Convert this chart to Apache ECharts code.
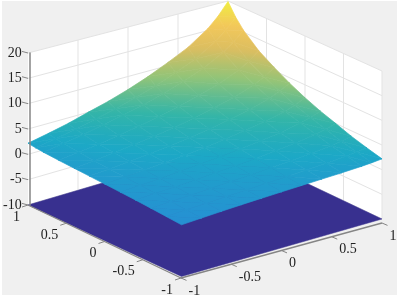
<!DOCTYPE html>
<html><head><meta charset="utf-8">
<style>html,body{margin:0;padding:0;background:#fff}#c{width:397px;height:298px}</style>
<script src="https://cdn.jsdelivr.net/npm/echarts@6/dist/echarts.min.js"></script>
</head><body><div id="c"></div>
<script>
// ---- data ----
const axisTicksA = [1, 0.5, 0, -0.5, -1];
const axisTicksB = [-1, -0.5, 0, 0.5, 1];
const axisLabelsA = ['1', '0.5', '0', '-0.5', '-1'];
const axisLabelsB = ['-1', '-0.5', '0', '0.5', '1'];
const zTicks = [-10, -5, 0, 5, 10, 15, 20];
const gridB = [-0.5, 0, 0.5];
const gridA = [0.5, 0, -0.5];
const floorZ = -10;
const surfaceA = [-1, -0.8, -0.6, -0.4, -0.2, 0, 0.2, 0.4, 0.6, 0.8, 0.9, 1];
const surfaceB = [-1, -0.8, -0.6, -0.4, -0.2, 0, 0.2, 0.4, 0.6, 0.8, 0.9, 1];
const surfaceZ = [
  [0.24, 0.47, 0.69, 0.89, 1.05, 1.21, 1.36, 1.51, 1.65, 1.84, 1.99, 2.19],
  [0.47, 0.68, 0.88, 1.09, 1.27, 1.47, 1.67, 1.88, 2.11, 2.44, 2.67, 2.99],
  [0.69, 0.88, 1.09, 1.31, 1.52, 1.76, 2.02, 2.32, 2.63, 3.10, 3.44, 3.88],
  [0.89, 1.09, 1.31, 1.58, 1.83, 2.13, 2.47, 2.88, 3.31, 3.96, 4.41, 5.00],
  [1.05, 1.27, 1.52, 1.83, 2.13, 2.48, 2.91, 3.41, 3.96, 4.77, 5.33, 6.07],
  [1.21, 1.47, 1.76, 2.13, 2.48, 2.92, 3.44, 4.06, 4.75, 5.75, 6.46, 7.36],
  [1.36, 1.67, 2.02, 2.47, 2.91, 3.44, 4.08, 4.85, 5.69, 6.92, 7.77, 8.88],
  [1.51, 1.88, 2.32, 2.88, 3.41, 4.06, 4.85, 5.77, 6.80, 8.29, 9.33, 10.66],
  [1.65, 2.11, 2.63, 3.31, 3.96, 4.75, 5.69, 6.80, 8.03, 9.80, 11.04, 12.62],
  [1.84, 2.44, 3.10, 3.96, 4.77, 5.75, 6.92, 8.29, 9.80, 11.97, 13.49, 15.43],
  [1.99, 2.67, 3.44, 4.41, 5.33, 6.46, 7.77, 9.33, 11.04, 13.49, 15.21, 17.39],
  [2.19, 2.99, 3.88, 5.00, 6.07, 7.36, 8.88, 10.66, 12.62, 15.43, 17.39, 19.9]
];
const colorZ = [-10, -1, 0.5, 2.5, 5, 8.75, 12.5, 16, 20];
const colorHex = ['#38308f', '#2a86d4', '#2592d2', '#1ca8c6', '#33b5a8', '#92c478', '#dcbe60', '#f3c85a', '#f0ee40'];

// ---- view of the box ----
const CORNER_FLOOR = { L: [28, 205], F: [181.5, 276.5], R: [382, 219], K: [228, 146] };
const CORNER_TOP = { L: [28, 53], F: [181.5, 125], R: [382, 71], K: [228, 1] };
const AXIS_END = { L: [28, 205], F: [181, 278], R: [382, 223] };
const Z_MIN = -10, Z_MAX = 20;
const FONT = '"Liberation Serif"';
const GRID_COLOR = '#e3e3e3', AXIS_COLOR = '#858585', TEXT_COLOR = '#222';

function bil(c, A, B, k) {
  const s = (A + 1) / 2, t = (B + 1) / 2;
  return (1 - s) * (1 - t) * c.F[k] + s * (1 - t) * c.L[k] + (1 - s) * t * c.R[k] + s * t * c.K[k];
}
function project(A, B, z) {
  const h = (z - Z_MIN) / (Z_MAX - Z_MIN);
  return [0, 1].map(k => bil(CORNER_FLOOR, A, B, k) * (1 - h) + bil(CORNER_TOP, A, B, k) * h);
}
function lerp2(p, q, t) { return [p[0] + (q[0] - p[0]) * t, p[1] + (q[1] - p[1]) * t]; }
function rgb(hex) { return [1, 3, 5].map(i => parseInt(hex.substr(i, 2), 16)); }
function colorAt(z) {
  let i = 0;
  while (i < colorZ.length - 2 && z > colorZ[i + 1]) i++;
  const t = Math.max(0, Math.min(1, (z - colorZ[i]) / (colorZ[i + 1] - colorZ[i])));
  const a = rgb(colorHex[i]), b = rgb(colorHex[i + 1]);
  return 'rgb(' + a.map((v, k) => Math.round(v + (b[k] - v) * t)).join(',') + ')';
}
function triFill(v) {
  // v: three [x, y, z]; colour runs linearly along the z direction on screen
  const s = v.slice().sort((p, q) => p[2] - q[2]);
  const lo = s[0], hi = s[2];
  const ax = s[1][0] - lo[0], ay = s[1][1] - lo[1], bx = hi[0] - lo[0], by = hi[1] - lo[1];
  const d1 = s[1][2] - lo[2], d2 = hi[2] - lo[2];
  const det = ax * by - ay * bx;
  if (Math.abs(det) < 1e-6 || d2 < 1e-6) return colorAt(lo[2]);
  const gx = (d1 * by - d2 * ay) / det, gy = (-d1 * bx + d2 * ax) / det;
  const n2 = gx * gx + gy * gy, f = d2 / n2;
  const stops = [0, 0.25, 0.5, 0.75, 1].map(o => ({ offset: o, color: colorAt(lo[2] + d2 * o) }));
  return new echarts.graphic.LinearGradient(lo[0], lo[1], lo[0] + gx * f, lo[1] + gy * f, stops, true);
}
function poly(points, fill, stroke, lw) {
  return { type: 'polygon', shape: { points }, style: { fill, stroke: stroke || null, lineWidth: lw || 0 } };
}
function line(p, q, color, lw) {
  return { type: 'line', shape: { x1: p[0], y1: p[1], x2: q[0], y2: q[1] }, style: { stroke: color, lineWidth: lw, fill: null } };
}
function layer(name, z, build) {
  return {
    type: 'custom', name, coordinateSystem: 'none', silent: true, animation: false, z,
    data: [0],
    renderItem: () => ({ type: 'group', children: build() })
  };
}

function buildWalls() {
  const c = [];
  const T = Z_MAX, Bt = Z_MIN;
  c.push(poly([project(1, -1, Bt), project(1, 1, Bt), project(1, 1, T), project(1, -1, T)], '#fff'));
  c.push(poly([project(1, 1, Bt), project(-1, 1, Bt), project(-1, 1, T), project(1, 1, T)], '#fff'));
  zTicks.forEach(z => {
    c.push(line(project(1, -1, z), project(1, 1, z), GRID_COLOR, 1));
    c.push(line(project(1, 1, z), project(-1, 1, z), GRID_COLOR, 1));
  });
  gridB.forEach(b => c.push(line(project(1, b, Bt), project(1, b, T), GRID_COLOR, 1)));
  gridA.forEach(a => c.push(line(project(a, 1, Bt), project(a, 1, T), GRID_COLOR, 1)));
  c.push(line(project(1, 1, Bt), project(1, 1, T), GRID_COLOR, 1));
  c.push(line(project(-1, 1, Bt), project(-1, 1, T), GRID_COLOR, 1));
  return c;
}
function buildFloor() {
  const col = colorAt(floorZ);
  return [poly([project(1, -1, floorZ), project(-1, -1, floorZ), project(-1, 1, floorZ), project(1, 1, floorZ)], col, col, 0.5)];
}
function buildSurface() {
  const c = [];
  const P = (i, j) => {
    const p = project(surfaceA[i], surfaceB[j], surfaceZ[i][j]);
    return [p[0], p[1], surfaceZ[i][j]];
  };
  for (let i = surfaceA.length - 2; i >= 0; i--) {
    for (let j = surfaceB.length - 2; j >= 0; j--) {
      [[P(i + 1, j + 1), P(i + 1, j), P(i, j + 1)], [P(i + 1, j), P(i, j + 1), P(i, j)]].forEach(t => {
        const f = triFill(t);
        c.push(poly(t.map(v => [v[0], v[1]]), f, f, 0.7));
      });
    }
  }
  return c;
}
function buildAxes() {
  const c = [];
  const txt = (x, y, s, align) => ({
    type: 'text', x, y,
    style: { text: s, font: '14px ' + FONT, fill: TEXT_COLOR, align, verticalAlign: 'middle' }
  });
  // z axis ticks lean with the left wall
  zTicks.forEach(z => {
    const p = project(1, -1, z);
    c.push(line(p, [p[0] - 6, p[1] - 1.6], AXIS_COLOR, 1));
  });
  // axis running from the left corner to the front corner
  c.push(line(AXIS_END.L, AXIS_END.F, AXIS_COLOR, 1.3));
  axisTicksA.forEach((a, i) => {
    const p = lerp2(AXIS_END.F, AXIS_END.L, (a + 1) / 2);
    c.push(line(p, [p[0] - 6, p[1] + 2], AXIS_COLOR, 1));
    c.push(txt(p[0] - 8, p[1] + 12, axisLabelsA[i], 'right'));
  });
  // axis running from the front corner to the right corner
  c.push(line(AXIS_END.F, AXIS_END.R, AXIS_COLOR, 1.3));
  axisTicksB.forEach((b, i) => {
    const p = lerp2(AXIS_END.F, AXIS_END.R, (b + 1) / 2);
    c.push(line(p, [p[0] + 5.5, p[1] + 2.4], AXIS_COLOR, 1));
    c.push(txt(p[0] + 7.5, p[1] + 13, axisLabelsB[i], 'left'));
  });
  return c;
}

const chart = echarts.init(document.getElementById('c'), null, { renderer: 'canvas' });
chart.setOption({
  animation: false,
  backgroundColor: '#fff',
  graphic: [{ type: 'rect', z: -1, silent: true, shape: { x: 2, y: 1, width: 395, height: 294 }, style: { fill: '#f0f0f0' } }],
  grid: { left: CORNER_TOP.L[0], width: 353, top: CORNER_TOP.L[1], height: CORNER_FLOOR.L[1] - CORNER_TOP.L[1], containLabel: false },
  xAxis: { type: 'value', show: false, min: 0, max: 1 },
  yAxis: {
    type: 'value', min: Z_MIN, max: Z_MAX, interval: 5, z: 10,
    axisLine: { show: true, lineStyle: { color: AXIS_COLOR, width: 1.5 } },
    axisTick: { show: false },
    splitLine: { show: false },
    axisLabel: { show: true, margin: 8, color: TEXT_COLOR, fontFamily: FONT, fontSize: 14 }
  },
  series: [
    layer('walls', 1, buildWalls),
    layer('floor', 2, buildFloor),
    layer('axes', 3, buildAxes),
    layer('surface', 4, buildSurface)
  ]
});
</script></body></html>
